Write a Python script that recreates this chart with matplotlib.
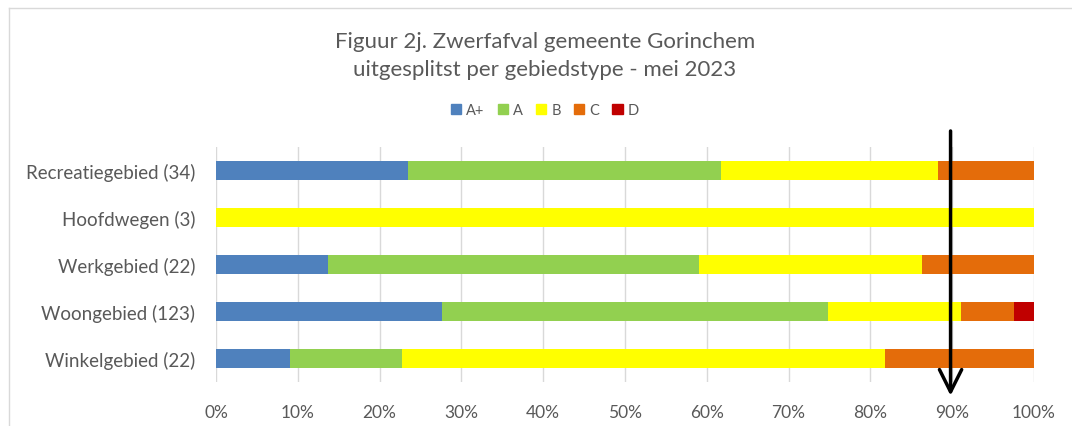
import matplotlib
matplotlib.use("Agg")
import matplotlib.pyplot as plt
from matplotlib.lines import Line2D
import numpy as np

plt.rcParams['font.family'] = ['Lato', 'DejaVu Sans']

categories = ["Winkelgebied (22)", "Woongebied (123)", "Werkgebied (22)", "Hoofdwegen (3)", "Recreatiegebied (34)"]
series_names = ["A+", "A", "B", "C", "D"]
aplus = [2/22, 34/123, 3/22, 0.0, 8/34]
a = [3/22, 58/123, 10/22, 0.0, 13/34]
b = [13/22, 20/123, 6/22, 3/3, 9/34]
c = [4/22, 8/123, 3/22, 0.0, 4/34]
d = [0.0, 3/123, 0.0, 0.0, 0.0]
colors = ["#4F81BD", "#92D050", "#FFFF00", "#E46C0A", "#C00000"]
xticks = np.arange(0, 1.01, 0.1)
xticklabels = [f"{int(round(t*100))}%" for t in xticks]

W, H = 1072, 427
fig = plt.figure(figsize=(W/100, H/100), dpi=100)
ax = fig.add_axes([216/W, 1-383/H, (1034-216)/W, (383-148)/H])

y = np.arange(len(categories))
left = np.zeros(len(categories))
for name, vals, col in zip(series_names, [aplus, a, b, c, d], colors):
    ax.barh(y, vals, left=left, height=0.4, color=col, label=name, zorder=2)
    left += np.array(vals)

ax.set_xlim(0, 1)
ax.set_ylim(-0.5, 4.5)
ax.set_yticks(y)
ax.set_yticklabels(categories, fontsize=13.5, color="#595959")
ax.set_xticks(xticks)
ax.set_xticklabels(xticklabels, fontsize=12.5, color="#595959")
ax.tick_params(axis='both', length=0)
ax.tick_params(axis='y', pad=15)
ax.tick_params(axis='x', pad=16)
ax.grid(axis='x', color="#D9D9D9", linewidth=1, zorder=0)
for s in ax.spines.values():
    s.set_visible(False)

# Arrow
ax.annotate("", xy=(0.898, -0.85), xytext=(0.898, 4.9),
            xycoords='data', textcoords='data',
            arrowprops=dict(arrowstyle="->", color="black", lw=2.5, mutation_scale=40),
            annotation_clip=False, zorder=5)

# Title
fig.text(545/W, 1-42/H, "Figuur 2j. Zwerfafval gemeente Gorinchem", ha='center', va='center',
         fontsize=16, color="#595959")
fig.text(545/W, 1-70/H, "uitgesplitst per gebiedstype - mei 2023", ha='center', va='center',
         fontsize=16, color="#595959")

# Legend
handles = [plt.Rectangle((0, 0), 1, 1, color=c_) for c_ in colors]
fig.legend(handles, series_names, loc='center', bbox_to_anchor=(545/W, 1-111/H), ncol=5,
           frameon=False, fontsize=10.5, labelcolor="#595959", handlelength=0.7, handleheight=0.7,
           handletextpad=0.35, columnspacing=0.9)

# Frame border
fig.add_artist(Line2D([9/W, 9/W], [0, 1-9/H], color="#D9D9D9", lw=1, transform=fig.transFigure))
fig.add_artist(Line2D([9/W, 1], [1-9/H, 1-9/H], color="#D9D9D9", lw=1, transform=fig.transFigure))

fig.savefig("out.png", dpi=100)
